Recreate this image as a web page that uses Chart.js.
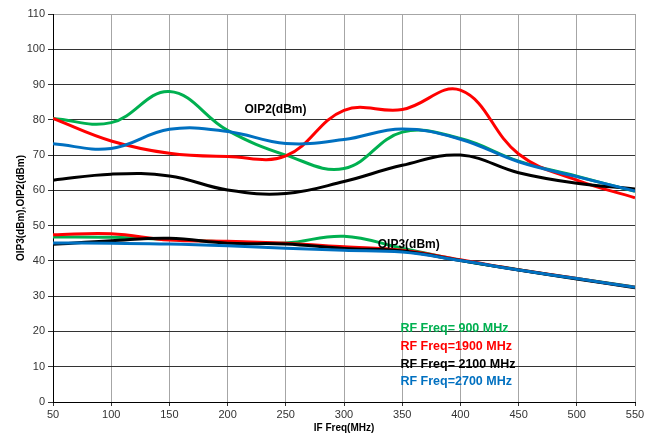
<!DOCTYPE html>
<html lang="en">

<head>
    <meta charset="UTF-8">
    <script src="https://cdn.jsdelivr.net/npm/chart.js"></script>
    <style>
        body { margin: 0; background: #fff; }
    </style>
</head>

<body>
    <canvas id="oipChart" width="666" height="435"></canvas>

    <script>
        // IF frequency points (MHz)
        const if_freq = [50, 100, 150, 200, 250, 300, 350, 400, 450, 500, 550];

        // OIP2 (dBm) per RF frequency
        const oip2_900 = [80.4, 79.2, 88.0, 77.0, 70.0, 66.2, 76.5, 74.7, 68.3, 64.0, 59.7];
        const oip2_1900 = [80.4, 74.0, 70.5, 69.6, 69.8, 82.7, 82.9, 88.4, 70.3, 62.9, 57.9];
        const oip2_2100 = [62.9, 64.6, 64.1, 60.1, 59.1, 62.5, 67.1, 70.0, 65.0, 62.0, 60.4];
        const oip2_2700 = [73.2, 71.9, 77.3, 76.7, 73.3, 74.4, 77.4, 74.5, 68.1, 63.9, 59.8];

        // OIP3 (dBm) per RF frequency
        const oip3_900 = [46.8, 46.7, 46.1, 45.4, 45.1, 47.0, 43.6, 40.2, 37.5, 35.0, 32.6];
        const oip3_1900 = [47.4, 47.7, 45.9, 45.6, 45.0, 44.0, 43.0, 40.3, 37.5, 35.0, 32.5];
        const oip3_2100 = [44.7, 45.7, 46.4, 45.0, 44.8, 43.5, 42.8, 40.1, 37.4, 34.9, 32.4];
        const oip3_2700 = [45.1, 45.0, 44.8, 44.3, 43.6, 43.0, 42.5, 40.1, 37.4, 35.0, 32.5];

        const rf_labels = ['RF Freq= 900 MHz', 'RF Freq=1900 MHz', 'RF Freq= 2100 MHz', 'RF Freq=2700 MHz'];
        const colors = ['#00b050', '#ff0000', '#000000', '#0070c0'];

        const font_family = "'Liberation Sans', Arial, sans-serif";

        function series(values, color, order) {
            return {
                data: values.map((v, i) => ({ x: if_freq[i], y: v })),
                borderColor: color,
                backgroundColor: color,
                borderWidth: 3,
                pointRadius: 0,
                tension: 0.4,
                fill: false,
                order: order,
            };
        }

        // text labels on the plot, placed in data coordinates
        const textLabels = {
            id: 'textLabels',
            afterDatasetsDraw(chart) {
                const ctx = chart.ctx;
                const xs = chart.scales.x;
                const ys = chart.scales.y;
                ctx.save();
                ctx.textAlign = 'left';
                ctx.textBaseline = 'middle';
                ctx.font = 'bold 12px ' + font_family;
                ctx.fillStyle = '#000';
                ctx.fillText('OIP2(dBm)', xs.getPixelForValue(214.5), ys.getPixelForValue(82.8));
                ctx.fillText('OIP3(dBm)', xs.getPixelForValue(329), ys.getPixelForValue(44.5));

                ctx.font = 'bold 12.5px ' + font_family;
                const legend_y = [20.9, 15.8, 10.7, 5.9];
                for (let i = 0; i < rf_labels.length; i++) {
                    ctx.fillStyle = colors[i];
                    ctx.fillText(rf_labels[i], xs.getPixelForValue(348.5), ys.getPixelForValue(legend_y[i]));
                }
                ctx.restore();
            }
        };

        new Chart(document.getElementById('oipChart'), {
            type: 'line',
            data: {
                datasets: [
                    series(oip2_900, colors[0], 4),
                    series(oip2_1900, colors[1], 3),
                    series(oip2_2100, colors[2], 2),
                    series(oip2_2700, colors[3], 1),
                    series(oip3_900, colors[0], 4),
                    series(oip3_1900, colors[1], 3),
                    series(oip3_2100, colors[2], 2),
                    series(oip3_2700, colors[3], 1),
                ]
            },
            options: {
                responsive: false,
                animation: false,
                layout: {
                    padding: { left: 0, top: 14, right: 31, bottom: 0 }
                },
                plugins: {
                    legend: { display: false },
                    tooltip: { enabled: false },
                },
                scales: {
                    x: {
                        type: 'linear',
                        min: 50,
                        max: 550,
                        afterFit: (scale) => { scale.height = 33; },
                        ticks: {
                            stepSize: 50,
                            color: '#333',
                            padding: 2,
                            font: { family: font_family, size: 11 }
                        },
                        grid: {
                            color: '#a6a6a6',
                            tickColor: '#333',
                            tickLength: 4,
                        },
                        border: { color: '#000', width: 1 },
                        title: {
                            display: true,
                            text: 'IF Freq(MHz)',
                            color: '#000',
                            padding: { top: 0, bottom: 1 },
                            font: { family: font_family, size: 10, weight: 'bold' }
                        }
                    },
                    y: {
                        min: 0,
                        max: 110,
                        afterFit: (scale) => { scale.width = 53; },
                        ticks: {
                            stepSize: 10,
                            color: '#333',
                            padding: 3,
                            font: { family: font_family, size: 11 }
                        },
                        grid: {
                            color: (ctx) => ctx.tick && ctx.tick.value === 110 ? '#a6a6a6' : '#333',
                            tickColor: '#333',
                            tickLength: 5,
                        },
                        border: { color: '#000', width: 1 },
                        title: {
                            display: true,
                            text: 'OIP3(dBm),OIP2(dBm)',
                            color: '#000',
                            padding: { top: 15, bottom: 0 },
                            font: { family: font_family, size: 10, weight: 'bold' }
                        }
                    }
                }
            },
            plugins: [textLabels]
        });
    </script>

</body>

</html>
